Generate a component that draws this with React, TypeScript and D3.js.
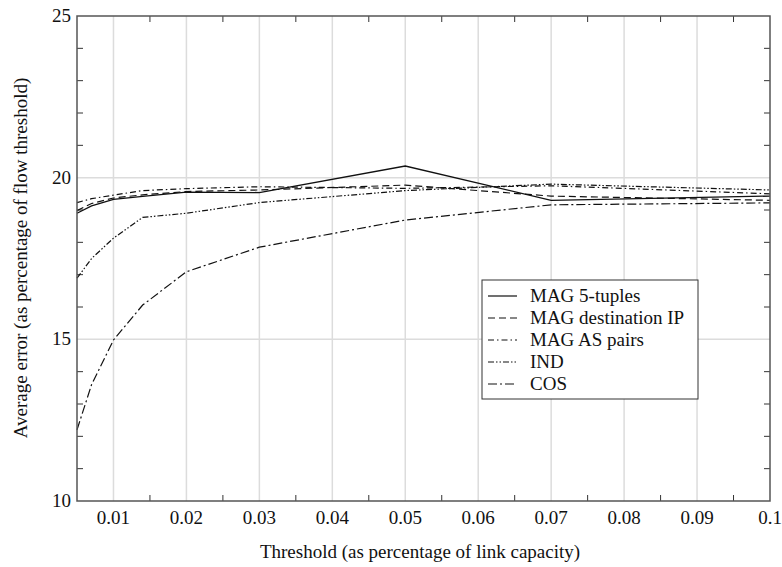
import React, { useEffect, useRef } from "react";
import * as d3 from "d3";

const thresholds = [0.005, 0.007, 0.01, 0.014, 0.02, 0.03, 0.05, 0.07, 0.1];
const mag5tuples = [18.9, 19.13, 19.33, 19.42, 19.55, 19.54, 20.36, 19.3, 19.43];
const magDestIP = [18.98, 19.2, 19.37, 19.47, 19.57, 19.62, 19.77, 19.43, 19.3];
const magASPairs = [19.23, 19.35, 19.46, 19.6, 19.66, 19.72, 19.67, 19.75, 19.5];
const ind = [16.89, 17.5, 18.13, 18.77, 18.9, 19.23, 19.6, 19.8, 19.62];
const cos = [12.2, 13.6, 14.98, 16.06, 17.09, 17.85, 18.69, 19.16, 19.22];

const seriesNames = ["MAG 5-tuples", "MAG destination IP", "MAG AS pairs", "IND", "COS"];
const seriesValues = [mag5tuples, magDestIP, magASPairs, ind, cos];
const dashes = ["none", "7,4", "6,3,1.5,3", "6,2,1.5,2,1.5,2", "9,3,2,3"];

const xTickValues = [0.01, 0.02, 0.03, 0.04, 0.05, 0.06, 0.07, 0.08, 0.09, 0.1];
const xTickLabels = ["0.01", "0.02", "0.03", "0.04", "0.05", "0.06", "0.07", "0.08", "0.09", "0.1"];
const yTickValues = [10, 15, 20, 25];
const yTickLabels = ["10", "15", "20", "25"];

const W = 782, H = 567;
const M = { left: 77, right: 770, top: 16, bottom: 501 };
const FONT = "'Liberation Serif', 'Times New Roman', Times, serif";

export default function App() {
  const ref = useRef<SVGSVGElement>(null);
  useEffect(() => {
    const svg = d3.select(ref.current);
    svg.selectAll("*").remove();
    const x = d3.scaleLinear().domain([0.005, 0.1]).range([M.left, M.right]);
    const y = d3.scaleLinear().domain([10, 25]).range([M.bottom, M.top]);

    const g = svg.append("g");
    xTickValues.slice(0, -1).forEach((v) => {
      g.append("line").attr("x1", x(v)).attr("x2", x(v)).attr("y1", M.top).attr("y2", M.bottom)
        .attr("stroke", "#dcdcdc").attr("stroke-width", 1.5);
    });
    [15, 20].forEach((v) => {
      g.append("line").attr("x1", M.left).attr("x2", M.right).attr("y1", y(v)).attr("y2", y(v))
        .attr("stroke", "#dcdcdc").attr("stroke-width", 1.5);
    });

    const tl = 6;
    const minorX = d3.range(0.015, 0.1, 0.01);
    minorX.forEach((v) => {
      g.append("line").attr("x1", x(v)).attr("x2", x(v)).attr("y1", M.bottom).attr("y2", M.bottom - tl)
        .attr("stroke", "#333").attr("stroke-width", 1);
      g.append("line").attr("x1", x(v)).attr("x2", x(v)).attr("y1", M.top).attr("y2", M.top + tl)
        .attr("stroke", "#333").attr("stroke-width", 1);
    });
    const minorY = d3.range(11, 25).filter((v) => v % 5 !== 0);
    minorY.forEach((v) => {
      g.append("line").attr("x1", M.left).attr("x2", M.left + tl).attr("y1", y(v)).attr("y2", y(v))
        .attr("stroke", "#333").attr("stroke-width", 1);
      g.append("line").attr("x1", M.right).attr("x2", M.right - tl).attr("y1", y(v)).attr("y2", y(v))
        .attr("stroke", "#333").attr("stroke-width", 1);
    });

    const line = d3.line<number>().x((_, i) => x(thresholds[i])).y((d) => y(d));
    seriesValues.forEach((vals, i) => {
      svg.append("path").attr("d", line(vals) as string).attr("fill", "none")
        .attr("stroke", "#111").attr("stroke-width", i === 0 ? 1.3 : 1.2)
        .attr("stroke-dasharray", dashes[i]);
    });

    svg.append("rect").attr("x", M.left).attr("y", M.top).attr("width", M.right - M.left)
      .attr("height", M.bottom - M.top).attr("fill", "none").attr("stroke", "#555").attr("stroke-width", 1.5);

    const txt = (sel: any) => sel.style("font-family", FONT).style("font-size", "19px").attr("fill", "#111");

    xTickValues.forEach((v, i) => {
      txt(svg.append("text").attr("x", x(v)).attr("y", 524).attr("text-anchor", "middle")).text(xTickLabels[i]);
    });
    yTickValues.forEach((v, i) => {
      txt(svg.append("text").attr("x", 71).attr("y", y(v) + 6).attr("text-anchor", "end")).text(yTickLabels[i]);
    });

    txt(svg.append("text").attr("x", 420).attr("y", 558).attr("text-anchor", "middle"))
      .text("Threshold (as percentage of link capacity)");
    txt(svg.append("text").attr("transform", "translate(27,258) rotate(-90)").attr("text-anchor", "middle"))
      .text("Average error (as percentage of flow threshold)");

    const lg = svg.append("g");
    lg.append("rect").attr("x", 482).attr("y", 280).attr("width", 216).attr("height", 119)
      .attr("fill", "white").attr("stroke", "#333").attr("stroke-width", 1);
    seriesNames.forEach((name, i) => {
      const cy = 296 + i * 22;
      lg.append("line").attr("x1", 488).attr("x2", 517).attr("y1", cy).attr("y2", cy)
        .attr("stroke", "#111").attr("stroke-width", 1.2).attr("stroke-dasharray", dashes[i]);
      txt(lg.append("text").attr("x", 530).attr("y", cy + 6)).text(name);
    });
  }, []);
  return (
    <svg ref={ref} width={W} height={H} style={{ position: "absolute", left: 0, top: 0, background: "white" }} />
  );
}
